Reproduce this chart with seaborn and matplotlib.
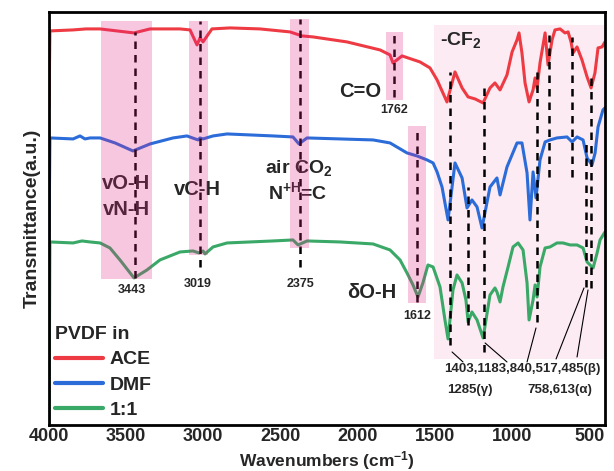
"""
FTIR spectra of PVDF films cast from ACE, DMF and a 1:1 mix.
Draws the three transmittance traces with band markers and peak labels.
"""

import pandas as pd
import matplotlib.pyplot as plt
from matplotlib.patches import Rectangle
import seaborn as sns

# Spectra: wavenumber (cm-1) and transmittance (a.u.)
wn_ace = [4000, 3994, 3844, 3760, 3669, 3560, 3449, 3345, 3151, 3086,
          3041, 3021, 3002, 2944, 2827, 2633, 2438, 2360, 2289, 2069,
          1855, 1790, 1771, 1712, 1596, 1531, 1485, 1421, 1369, 1323,
          1284, 1239, 1187, 1142, 1110, 1077, 1032, 999, 967, 954,
          935, 915, 889, 863, 850, 837, 818, 785, 766, 740,
          721, 688, 656, 636, 617, 604, 578, 546, 513, 487,
          462, 442, 416, 397]
t_ace = [317, 394, 395, 396, 396, 394, 392, 396, 396, 395,
         380, 387, 383, 396, 397, 396, 393, 389, 388, 383,
         375, 370, 362, 369, 363, 357, 345, 323, 353, 337,
         328, 326, 322, 337, 342, 335, 350, 373, 385, 392,
         372, 342, 323, 335, 347, 337, 362, 392, 360, 385,
         395, 396, 392, 393, 383, 372, 378, 365, 348, 337,
         352, 377, 378, 383]

wn_dmf = [4000, 3994, 3844, 3799, 3767, 3734, 3669, 3572, 3456, 3345,
          3196, 3106, 3034, 3021, 3002, 2937, 2846, 2548, 2419, 2380,
          2328, 2114, 1900, 1790, 1680, 1615, 1550, 1511, 1485, 1453,
          1414, 1369, 1323, 1291, 1259, 1226, 1194, 1142, 1097, 1077,
          1032, 967, 935, 902, 883, 863, 844, 818, 785, 753,
          708, 643, 610, 578, 539, 513, 481, 461, 442, 410,
          397]
t_dmf = [185, 287, 286, 289, 286, 287, 287, 282, 274, 281,
         287, 289, 285, 287, 286, 289, 291, 289, 288, 281,
         287, 286, 285, 282, 272, 269, 265, 262, 253, 238,
         205, 262, 247, 217, 225, 218, 197, 238, 247, 230,
         258, 282, 282, 252, 205, 253, 227, 265, 283, 285,
         287, 288, 283, 288, 285, 267, 260, 272, 298, 315,
         317]

wn_mix = [4000, 3994, 3844, 3786, 3734, 3669, 3605, 3540, 3449, 3365,
          3281, 3151, 3067, 3028, 3002, 2989, 2937, 2846, 2548, 2419,
          2386, 2328, 2114, 1900, 1790, 1725, 1680, 1641, 1609, 1577,
          1544, 1511, 1466, 1434, 1414, 1382, 1356, 1323, 1298, 1284,
          1259, 1226, 1187, 1142, 1110, 1097, 1077, 1058, 1025, 993,
          960, 928, 902, 889, 863, 850, 837, 818, 785, 753,
          708, 669, 623, 578, 539, 513, 474, 448, 429, 397]
t_mix = [0, 183, 182, 184, 183, 182, 177, 165, 147, 155,
         165, 173, 174, 172, 174, 171, 178, 182, 184, 185,
         180, 184, 183, 181, 175, 165, 152, 140, 128, 142,
         160, 158, 138, 105, 86, 135, 150, 142, 125, 103,
         113, 105, 87, 130, 137, 133, 123, 138, 158, 178,
         182, 175, 142, 105, 125, 140, 128, 158, 177, 178,
         182, 182, 180, 180, 177, 163, 157, 172, 185, 193]

sample_names = ["ACE", "DMF", "1:1"]
sample_colors = ["#EE3B43", "#2B6CD9", "#3AA867"]

# Highlighted bands: (wn high, wn low, T low, T high)
bands = [(3663, 3332, 146, 404), (3093, 2970, 170, 404), (2438, 2315, 177, 406),
         (1816, 1706, 325, 393), (1673, 1557, 122, 299)]
cf2_band = (1505, 397, 66, 400)

# Dashed peak markers: (wn, T top, T bottom)
peak_marks = [(3443, 393, 147), (3019, 404, 158), (2375, 406, 158), (1762, 390, 328),
              (1612, 297, 123), (1403, 353, 80), (1285, 238, 100), (1183, 340, 73),
              (840, 353, 103), (758, 390, 248), (613, 388, 248), (517, 283, 138),
              (485, 350, 137)]

# Leader lines from the crystal-phase label to the peaks
leaders = [((1388, 73), (1317, 63)), ((1174, 82), (1032, 63)), ((844, 97), (902, 63)),
           ((533, 137), (714, 66)), ((507, 135), (578, 68))]

# Labels: (text, wn, T, size)
band_labels = [("vO-H", 3501, 236, 14.5), ("vN-H", 3501, 210, 14.5),
               ("vC-H", 3041, 230, 14.5), ("air CO$_2$", 2380, 252, 14),
               ("N$^{+H}$=C", 2390, 226, 14), ("C=O", 1984, 328, 14.5),
               ("δO-H", 1907, 127, 14.5)]
peak_labels = [("1762", 1764, 312), ("3443", 3462, 132), ("3019", 3034, 138),
               ("2375", 2373, 138), ("1612", 1615, 106)]
phase_labels = [("1403,1183,840,517,485(β)", 935, 53), ("1285(γ)", 1271, 32),
                ("758,613(α)", 688, 32)]


def build_frame() -> pd.DataFrame:
    """Stack the three spectra into one long table."""
    parts = []
    for name, wn, t in zip(sample_names, [wn_ace, wn_dmf, wn_mix], [t_ace, t_dmf, t_mix]):
        parts.append(pd.DataFrame({"wn": wn, "T": t, "sample": name}))
    return pd.concat(parts, ignore_index=True)


def main():
    sns.set_theme(style="white")
    plt.rcParams["font.family"] = ["Liberation Sans", "DejaVu Sans"]
    plt.rcParams["font.weight"] = "bold"
    plt.rcParams["mathtext.fontset"] = "custom"
    plt.rcParams["mathtext.rm"] = "Liberation Sans:bold"
    plt.rcParams["mathtext.it"] = "Liberation Sans:bold"
    plt.rcParams["mathtext.bf"] = "Liberation Sans:bold"

    df = build_frame()

    fig = plt.figure(figsize=(6.14, 4.71), dpi=100)
    ax = fig.add_axes([0.0798, 0.0977, 0.9055, 0.877])

    sns.lineplot(data=df, x="wn", y="T", hue="sample", hue_order=sample_names,
                 palette=sample_colors, sort=False, estimator=None, lw=2.2,
                 ax=ax, zorder=2)

    # light background for the CF2 region, pink bands drawn on top with alpha
    hi, lo, y0, y1 = cf2_band
    ax.add_patch(Rectangle((lo, y0), hi - lo, y1 - y0, color="#E32383",
                           alpha=0.09, lw=0, zorder=1))
    for hi, lo, y0, y1 in bands:
        ax.add_patch(Rectangle((lo, y0), hi - lo, y1 - y0, color="#E32383",
                               alpha=0.25, lw=0, zorder=6))

    for wn, top, bottom in peak_marks:
        ax.plot([wn, wn], [bottom, top], color="black", ls=(0, (3, 2.4)),
                lw=1.8, zorder=3)
    for (x0, y0), (x1, y1) in leaders:
        ax.plot([x0, x1], [y0, y1], color="black", lw=0.8, zorder=3)

    for text, wn, t, size in band_labels:
        ax.text(wn, t, text, fontsize=size, fontweight="bold", ha="center",
                va="baseline", zorder=4)
    ax.text(1466, 380, "-CF$_2$", fontsize=14, fontweight="bold", ha="left",
            va="baseline", zorder=4)
    for text, wn, t in peak_labels:
        ax.text(wn, t, text, fontsize=9, fontweight="bold", ha="center",
                va="baseline", zorder=4)
    for text, wn, t in phase_labels:
        ax.text(wn, t, text, fontsize=9.5, fontweight="bold", ha="center",
                va="baseline", zorder=4)

    ax.set_xlim(4000, 397)
    ax.set_ylim(0, 413)
    ax.set_xticks([4000, 3500, 3000, 2500, 2000, 1500, 1000, 500])
    ax.set_yticks([])
    ax.tick_params(axis="x", length=0, pad=2.5, labelsize=13)
    for lab in ax.get_xticklabels():
        lab.set_fontweight("bold")
    ax.set_xlabel("Wavenumbers (cm$^{-1}$)", fontsize=12.5, fontweight="bold")
    ax.xaxis.label.set_va("baseline")
    ax.xaxis.set_label_coords(0.5, -0.1005)
    ax.set_ylabel("Transmittance(a.u.)", fontsize=14, fontweight="bold", labelpad=6)
    for spine in ax.spines.values():
        spine.set_linewidth(2)
        spine.set_color("black")

    sns.move_legend(ax, "lower left", bbox_to_anchor=(0, 0), title="PVDF in",
                    frameon=False, fontsize=14, title_fontsize=14, alignment="left",
                    handlelength=2.5, handletextpad=0.3, labelspacing=0.4,
                    borderpad=0.2, borderaxespad=0.1)
    leg = ax.get_legend()
    leg.get_title().set_fontweight("bold")
    for text in leg.get_texts():
        text.set_fontweight("bold")
    for line in leg.get_lines():
        line.set_linewidth(3)

    fig.savefig("out.png", dpi=100)


if __name__ == "__main__":
    main()
